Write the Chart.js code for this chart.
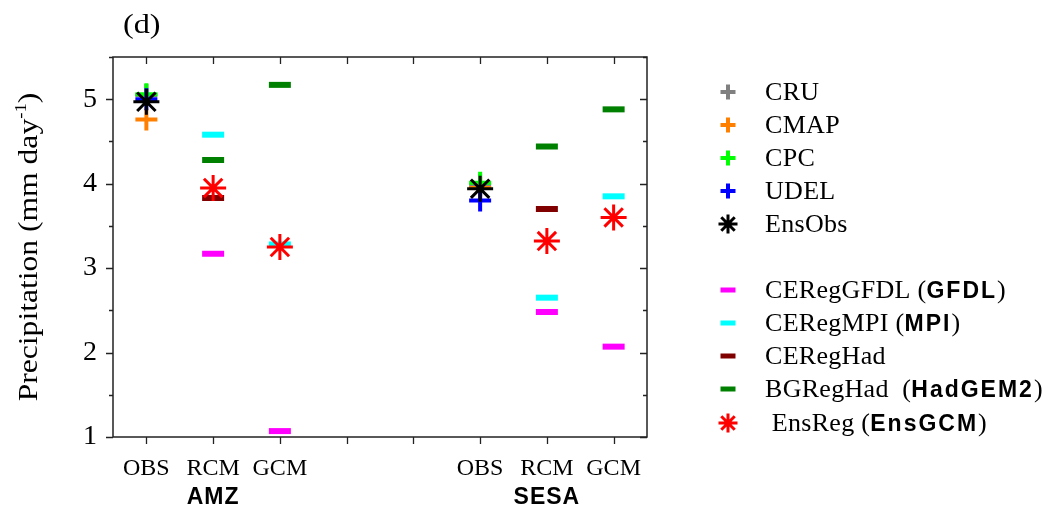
<!DOCTYPE html>
<html><head><meta charset="utf-8">
<script src="https://cdn.jsdelivr.net/npm/chart.js@4/dist/chart.umd.min.js"></script>
<style>html,body{margin:0;padding:0;background:#fff}#wrap{width:1048px;height:508px;position:relative}</style>
</head><body><div id="wrap"><canvas id="c" width="1048" height="508"></canvas></div>
<script>
// ---- data ----
const tickPositions = [1, 2, 3, 4, 5, 6, 7, 8];
const tickLabels = {1: 'OBS', 2: 'RCM', 3: 'GCM', 6: 'OBS', 7: 'RCM', 8: 'GCM'};
const regions = ['AMZ', 'SESA'];
const regionCenters = [2, 7];
const obsX = [1, 6];
const modelX = [2, 3, 7, 8];
const hadX = [2, 7];
const CRU = [5.05, 3.98];
const CMAP = [4.76, 3.95];
const CPC = [5.06, 4.01];
const UDEL = [5.00, 3.80];
const EnsObs = [4.97, 3.94];
const GFDL = [3.17, 1.07, 2.48, 2.07];
const MPI = [4.58, 3.28, 2.65, 3.85];
const CERegHad = [3.83, 3.70];
const HadGEM2 = [4.28, 5.17, 4.44, 4.88];
const EnsReg = [3.95, 3.25, 3.32, 3.60];
const yTicks = [1, 1.5, 2, 2.5, 3, 3.5, 4, 4.5, 5, 5.5];

const SERIF = '"Liberation Serif", "Times New Roman", serif';
const SANS = '"Liberation Sans", Arial, sans-serif';

const styleSize = {cross: [11, 4], line: [11, 6], star: [13, 3]};
function ds(label, xs, ys, color, style, order) {
  return {
    label, order,
    data: xs.map((x, i) => ({x, y: ys[i]})),
    borderColor: color, backgroundColor: color,
    pointStyle: style, pointRadius: styleSize[style][0], pointHoverRadius: styleSize[style][0],
    pointBorderWidth: styleSize[style][1], pointHoverBorderWidth: styleSize[style][1],
    showLine: false
  };
}
const datasets = [
  ds('CRU', obsX, CRU, '#808080', 'cross', 10),
  ds('CMAP', obsX, CMAP, '#ff8000', 'cross', 9),
  ds('CPC', obsX, CPC, '#00ff00', 'cross', 8),
  ds('UDEL', obsX, UDEL, '#0000ff', 'cross', 7),
  ds('EnsObs', obsX, EnsObs, '#000000', 'star', 6),
  ds('CERegGFDL', modelX, GFDL, '#ff00ff', 'line', 5),
  ds('CERegMPI', modelX, MPI, '#00ffff', 'line', 4),
  ds('CERegHad', hadX, CERegHad, '#800000', 'line', 3),
  ds('BGRegHad', modelX, HadGEM2, '#008000', 'line', 2),
  ds('EnsReg', modelX, EnsReg, '#ff0000', 'star', 1)
];

const legendItems = [
  {style: 'cross', color: '#808080', y: 92, segs: [['CRU', 0]]},
  {style: 'cross', color: '#ff8000', y: 125, segs: [['CMAP', 0]]},
  {style: 'cross', color: '#00ff00', y: 158, segs: [['CPC', 0]]},
  {style: 'cross', color: '#0000ff', y: 191, segs: [['UDEL', 0]]},
  {style: 'star', color: '#000000', y: 224, segs: [['EnsObs', 0]]},
  {style: 'line', color: '#ff00ff', y: 290, segs: [['CERegGFDL (', 0], ['GFDL', 1], [')', 0]]},
  {style: 'line', color: '#00ffff', y: 323, segs: [['CERegMPI (', 0], ['MPI', 1], [')', 0]]},
  {style: 'line', color: '#800000', y: 356, segs: [['CERegHad', 0]]},
  {style: 'line', color: '#008000', y: 389, segs: [['BGRegHad  (', 0], ['HadGEM2', 1], [')', 0]]},
  {style: 'star', color: '#ff0000', y: 423, segs: [[' EnsReg (', 0], ['EnsGCM', 1], [')', 0]]}
];
const legendSize = {cross: [7.5, 4], line: [7.5, 5], star: [9.5, 3]};

const framePlugin = {
  id: 'frame',
  beforeDatasetsDraw(chart) {
    const {ctx, chartArea: a, scales: {x, y}} = chart;
    ctx.save();
    ctx.strokeStyle = '#222';
    ctx.lineWidth = 1.5;
    ctx.strokeRect(a.left, a.top, a.right - a.left, a.bottom - a.top);
    ctx.lineWidth = 1.3;
    ctx.beginPath();
    tickPositions.forEach(v => {
      const px = Math.round(x.getPixelForValue(v)) + 0.5;
      ctx.moveTo(px, a.bottom); ctx.lineTo(px, a.bottom + 7);
      ctx.moveTo(px, a.top); ctx.lineTo(px, a.top + 7);
    });
    yTicks.forEach(v => {
      const py = Math.round(y.getPixelForValue(v)) + 0.5;
      const len = Number.isInteger(v) ? 7 : 4;
      ctx.moveTo(a.left, py); ctx.lineTo(a.left - len, py);
      ctx.moveTo(a.right, py); ctx.lineTo(a.right - len, py);
    });
    ctx.stroke();
    ctx.restore();
  },
  afterDraw(chart) {
    const {ctx, chartArea: a, scales: {x, y}} = chart;
    ctx.save();
    ctx.fillStyle = '#000';
    // panel label
    ctx.font = '28px ' + SERIF;
    ctx.textBaseline = 'alphabetic';
    ctx.save();
    ctx.translate(123, 33);
    ctx.scale(1.15, 1);
    ctx.fillText('(d)', 0, 0);
    ctx.restore();
    // y title
    ctx.save();
    ctx.translate(37, (a.top + a.bottom) / 2);
    ctx.rotate(-Math.PI / 2);
    ctx.scale(1.17, 1);
    const t1 = 'Precipitation (mm day', t2 = '-1', t3 = ')';
    ctx.font = '27px ' + SERIF;
    const w1 = ctx.measureText(t1).width, w3 = ctx.measureText(t3).width;
    ctx.font = '16px ' + SERIF;
    const w2 = ctx.measureText(t2).width;
    let sx = -(w1 + w2 + w3) / 2;
    ctx.font = '27px ' + SERIF;
    ctx.fillText(t1, sx, 0); sx += w1;
    ctx.font = '16px ' + SERIF;
    ctx.fillText(t2, sx, -11); sx += w2;
    ctx.font = '27px ' + SERIF;
    ctx.fillText(t3, sx, 0);
    ctx.restore();
    // region labels
    ctx.font = 'bold 23px ' + SANS;
    ctx.letterSpacing = '1px';
    ctx.textAlign = 'center';
    regions.forEach((r, i) => {
      ctx.fillText(r, x.getPixelForValue(regionCenters[i]), 504);
    });
    ctx.textAlign = 'left';
    // legend
    legendItems.forEach(it => {
      ctx.strokeStyle = it.color; ctx.fillStyle = it.color;
      const [r, bw] = legendSize[it.style];
      ctx.lineWidth = bw;
      ctx.beginPath();
      const cx = 728, cy = it.y;
      ctx.moveTo(cx - r, cy); ctx.lineTo(cx + r, cy);
      if (it.style !== 'line') { ctx.moveTo(cx, cy - r); ctx.lineTo(cx, cy + r); }
      if (it.style === 'star') {
        const d = r * Math.cos(Math.PI / 4);
        ctx.moveTo(cx - d, cy - d); ctx.lineTo(cx + d, cy + d);
        ctx.moveTo(cx - d, cy + d); ctx.lineTo(cx + d, cy - d);
      }
      ctx.stroke();
      ctx.fillStyle = '#000';
      let tx = 765;
      it.segs.forEach(([t, b]) => {
        if (b) { ctx.font = 'bold 23px ' + SANS; ctx.letterSpacing = '2px'; }
        else { ctx.font = '26px ' + SERIF; ctx.letterSpacing = '0.3px'; }
        ctx.fillText(t, tx, it.y + 8);
        tx += ctx.measureText(t).width;
      });
    });
    ctx.restore();
  }
};

new Chart(document.getElementById('c'), {
  type: 'scatter',
  data: {datasets},
  options: {
    responsive: false, animation: false,
    layout: {padding: {left: 0, right: 401, top: 57, bottom: 0}},
    plugins: {legend: {display: false}, tooltip: {enabled: false}},
    scales: {
      x: {
        type: 'linear', min: 0.5, max: 8.5,
        afterBuildTicks: s => { s.ticks = tickPositions.map(v => ({value: v})); },
        afterFit: s => { s.height = 71; },
        grid: {display: false}, border: {display: false},
        ticks: {callback: v => tickLabels[v] || '', font: {family: SERIF, size: 24}, color: '#000', padding: 9, maxRotation: 0, autoSkip: false}
      },
      y: {
        min: 1, max: 5.5,
        afterBuildTicks: s => { s.ticks = yTicks.map(v => ({value: v})); },
        afterFit: s => { s.width = 113; },
        grid: {display: false}, border: {display: false},
        ticks: {callback: v => Number.isInteger(v) ? String(v) : '', font: {family: SERIF, size: 28}, color: '#000', padding: 8, autoSkip: false}
      }
    }
  },
  plugins: [framePlugin]
});
</script>
</body></html>
